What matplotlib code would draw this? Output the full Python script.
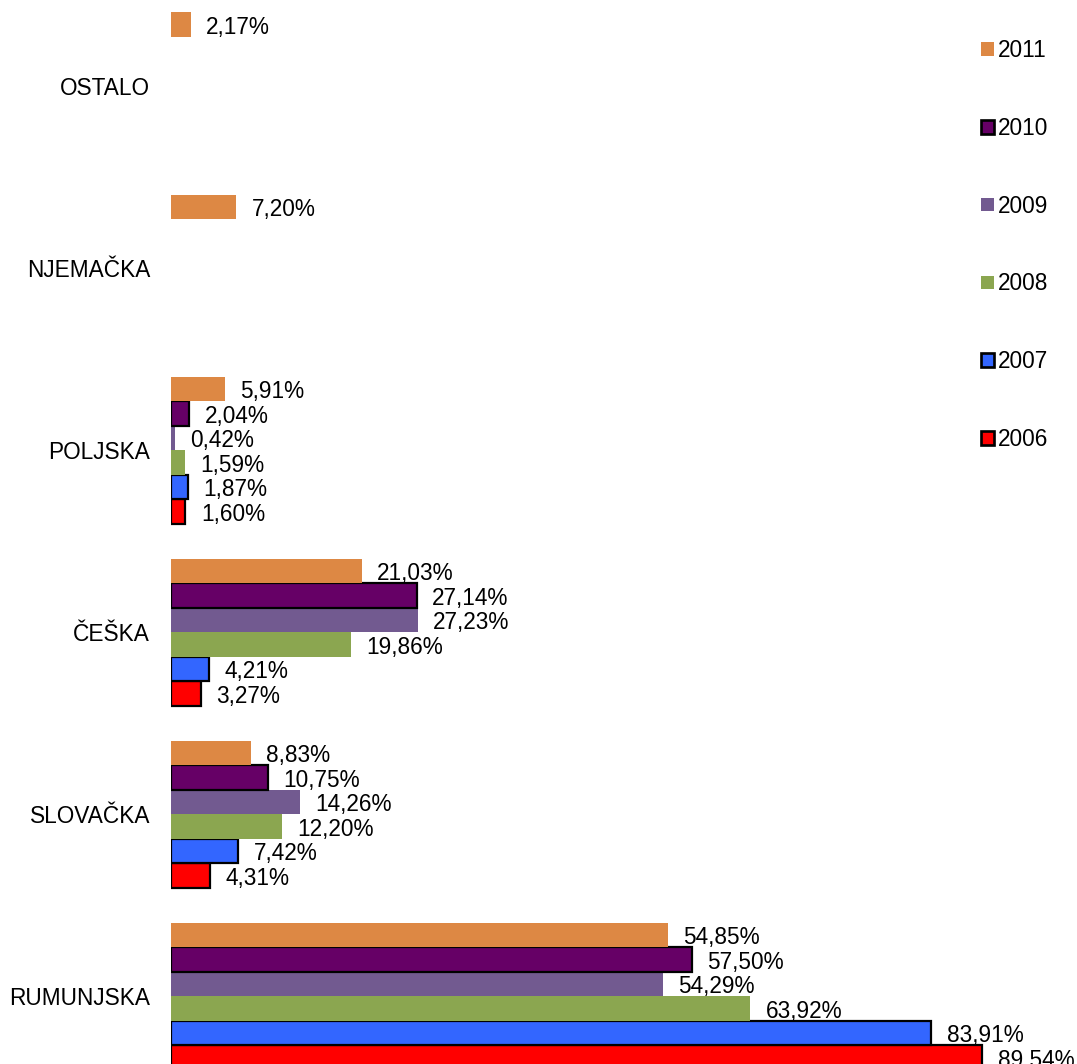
import numpy as np
import matplotlib
matplotlib.use("Agg")
import matplotlib.pyplot as plt
from matplotlib.patches import Patch

plt.rcParams['font.family'] = ['Liberation Sans', 'DejaVu Sans']

# countries, bottom to top
countries = ["RUMUNJSKA", "SLOVAČKA", "ČEŠKA", "POLJSKA", "NJEMAČKA", "OSTALO"]
years = ["2006", "2007", "2008", "2009", "2010", "2011"]

v2006 = [89.54, 4.31, 3.27, 1.60, np.nan, np.nan]
v2007 = [83.91, 7.42, 4.21, 1.87, np.nan, np.nan]
v2008 = [63.92, 12.20, 19.86, 1.59, np.nan, np.nan]
v2009 = [54.29, 14.26, 27.23, 0.42, np.nan, np.nan]
v2010 = [57.50, 10.75, 27.14, 2.04, np.nan, np.nan]
v2011 = [54.85, 8.83, 21.03, 5.91, 7.20, 2.17]
series = [v2006, v2007, v2008, v2009, v2010, v2011]

colors = ["#FF0000", "#3366FF", "#8BA650", "#725A90", "#660066", "#DD8844"]
edged = [True, True, False, False, True, False]
fs = 16.3

fig = plt.figure(figsize=(10.77, 10.64), dpi=100)
ax = fig.add_axes([171 / 1077, 0, 906 / 1077, 1])

y = np.arange(len(countries))
h = 24.5 / 182

handles = []
for i, (vals, yr) in enumerate(zip(series, years)):
    pos = y + (i - 2.5) * h
    vals = np.array(vals, dtype=float)
    ok = ~np.isnan(vals)
    ec = "black" if edged[i] else colors[i]
    lw = 1.6 if edged[i] else 0
    ax.barh(pos[ok], vals[ok], height=h, color=colors[i],
            edgecolor=ec, linewidth=lw)
    for p, v in zip(pos[ok], vals[ok]):
        ax.annotate(f"{v:.2f}%".replace(".", ","), (v, p),
                    xytext=(11, -2), textcoords="offset points",
                    va="center", ha="left", fontsize=fs)
    handles.append(Patch(facecolor=colors[i], edgecolor=ec, linewidth=lw * 1.2, label=yr))

ax.set_xlim(0, 100)
ax.set_ylim(-(1064 - 996) / 182, 5 + 86 / 182)
ax.set_yticks(y)
ax.set_yticklabels(countries, fontsize=fs)
ax.tick_params(axis="y", length=0, pad=15)
ax.set_xticks([])
for s in ax.spines.values():
    s.set_visible(False)

leg = fig.legend(handles=handles[::-1], loc="upper left",
                 bbox_to_anchor=(972 / 1077, 1 - 30 / 1064),
                 frameon=False, fontsize=fs, handlelength=0.55,
                 handleheight=0.55, handletextpad=0.2, labelspacing=2.42,
                 borderaxespad=0)

plt.savefig("out.png", dpi=100)
